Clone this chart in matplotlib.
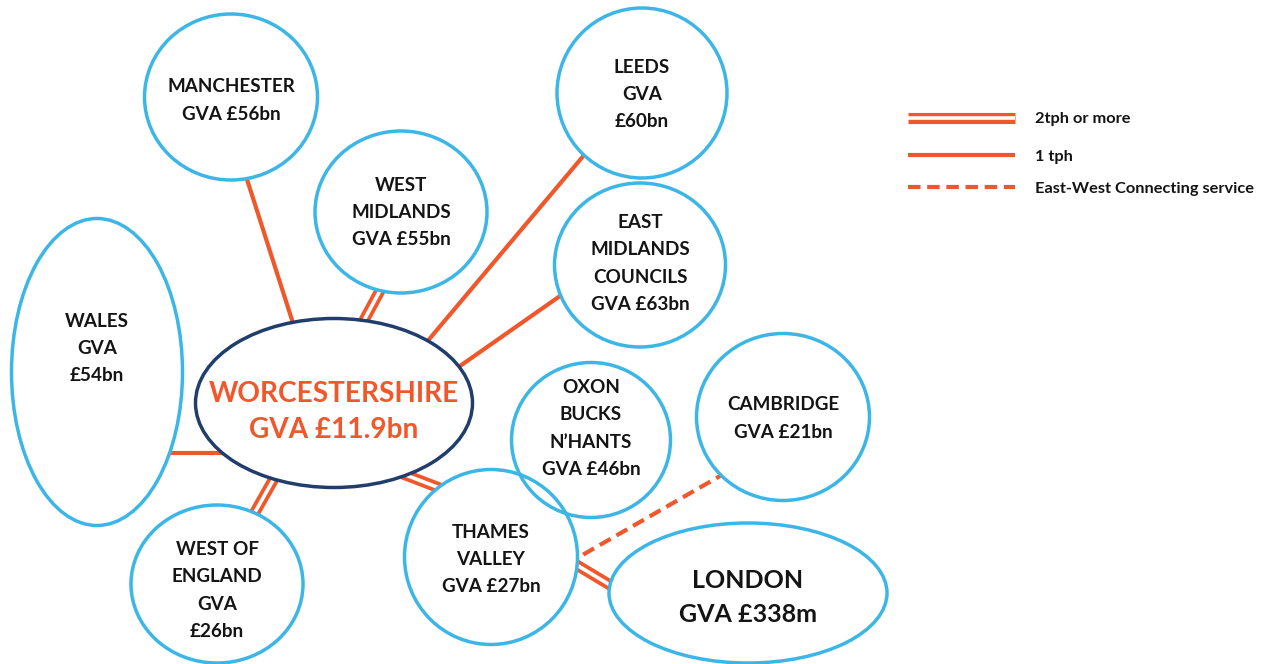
import matplotlib.pyplot as plt
from matplotlib.patches import Ellipse

# region names and their GVA label (one entry per bubble)
regions = ["MANCHESTER", "WEST MIDLANDS", "LEEDS", "EAST MIDLANDS", "WALES",
           "OXON BUCKS", "CAMBRIDGE", "THAMES VALLEY", "WEST OF ENGLAND", "LONDON"]
region_labels = [
    ["MANCHESTER", "GVA £56bn"],
    ["WEST", "MIDLANDS", "GVA £55bn"],
    ["LEEDS", "GVA", "£60bn"],
    ["EAST", "MIDLANDS", "COUNCILS", "GVA £63bn"],
    ["WALES", "GVA", "£54bn"],
    ["OXON", "BUCKS", "N\u2019HANTS", "GVA £46bn"],
    ["CAMBRIDGE", "GVA £21bn"],
    ["THAMES", "VALLEY", "GVA £27bn"],
    ["WEST OF", "ENGLAND", "GVA", "£26bn"],
    ["LONDON", "GVA £338m"],
]
hub_label = ["WORCESTERSHIRE", "GVA £11.9bn"]

# connections: (from, to, service)
links = [
    ("WORCESTERSHIRE", "MANCHESTER", "1 tph"),
    ("WORCESTERSHIRE", "WEST MIDLANDS", "2tph or more"),
    ("WORCESTERSHIRE", "LEEDS", "1 tph"),
    ("WORCESTERSHIRE", "EAST MIDLANDS", "1 tph"),
    ("WORCESTERSHIRE", "WALES", "1 tph"),
    ("WORCESTERSHIRE", "WEST OF ENGLAND", "2tph or more"),
    ("WORCESTERSHIRE", "THAMES VALLEY", "2tph or more"),
    ("THAMES VALLEY", "LONDON", "2tph or more"),
    ("CAMBRIDGE", "THAMES VALLEY", "East-West Connecting service"),
]
services = ["2tph or more", "1 tph", "East-West Connecting service"]

# ---- layout (pixel space, y down) ----
# centre x, centre y, width, height, text centre y
shape_layout = {
    "MANCHESTER": (231, 97, 173, 166, 99),
    "WEST MIDLANDS": (401, 212, 172, 162, 211),
    "LEEDS": (642, 93, 170, 170, 93),
    "EAST MIDLANDS": (640, 265, 171, 164, 262),
    "WALES": (97, 372, 171, 307, 347),
    "OXON BUCKS": (591, 440, 159, 155, 427),
    "CAMBRIDGE": (783, 417, 173, 167, 417),
    "THAMES VALLEY": (491, 557, 173, 175, 558),
    "WEST OF ENGLAND": (217, 584, 172, 158, 589),
    "LONDON": (748, 593, 278, 140, 595),
    "WORCESTERSHIRE": (334, 403, 277, 169, 410),
}
# segment end points for each link
link_layout = {
    ("WORCESTERSHIRE", "MANCHESTER"): ((300, 345), (244, 170)),
    ("WORCESTERSHIRE", "WEST MIDLANDS"): ((356, 335), (382, 287)),
    ("WORCESTERSHIRE", "LEEDS"): ((410, 362), (590, 148)),
    ("WORCESTERSHIRE", "EAST MIDLANDS"): ((440, 380), (570, 289)),
    ("WORCESTERSHIRE", "WALES"): ((165, 453), (240, 453)),
    ("WORCESTERSHIRE", "WEST OF ENGLAND"): ((280, 468), (250, 521)),
    ("WORCESTERSHIRE", "THAMES VALLEY"): ((390, 469), (450, 492)),
    ("THAMES VALLEY", "LONDON"): ((570, 561), (620, 591)),
    ("CAMBRIDGE", "THAMES VALLEY"): ((727, 472), (572, 561)),
}

ORANGE = "#F0582B"
BLUE = "#3CB6E7"
NAVY = "#1F3E6C"
INK = "#141414"
FONT = "Lato"

fig = plt.figure(figsize=(12.67, 6.64), dpi=100)
ax = fig.add_axes([0, 0, 1, 1])
ax.set_xlim(0, 1267)
ax.set_ylim(664, 0)
ax.axis("off")


def draw_link(p0, p1, kind, z=1):
    xs, ys = [p0[0], p1[0]], [p0[1], p1[1]]
    if kind == "2tph or more":
        ax.plot(xs, ys, color=ORANGE, lw=8.0, solid_capstyle="butt", zorder=z)
        ax.plot(xs, ys, color="white", lw=2.6, solid_capstyle="butt", zorder=z + 0.1)
    elif kind == "1 tph":
        ax.plot(xs, ys, color=ORANGE, lw=3.0, solid_capstyle="butt", zorder=z)
    else:
        ax.plot(xs, ys, color=ORANGE, lw=3.0, linestyle=(0, (3.0, 1.6)),
                dash_capstyle="butt", zorder=z)


for a, b, kind in links:
    p0, p1 = link_layout[(a, b)]
    draw_link(p0, p1, kind)

# white fills first, outlines on top so overlapping rims both show
all_nodes = regions + ["WORCESTERSHIRE"]
for name in all_nodes:
    cx, cy, w, h, _ = shape_layout[name]
    ax.add_patch(Ellipse((cx, cy), w, h, facecolor="white", edgecolor="none", zorder=2))
for name in all_nodes:
    cx, cy, w, h, _ = shape_layout[name]
    edge = NAVY if name == "WORCESTERSHIRE" else BLUE
    ax.add_patch(Ellipse((cx, cy), w, h, facecolor="none", edgecolor=edge, lw=2.5, zorder=3))


def draw_label(lines, cx, cy, size, step, color, weight="bold"):
    n = len(lines)
    for i, line in enumerate(lines):
        y = cy + (i - (n - 1) / 2) * step
        ax.text(cx, y, line, ha="center", va="center_baseline", fontsize=size,
                color=color, fontweight=weight, family=FONT, zorder=4)


for name, lines in zip(regions, region_labels):
    cx, cy, w, h, ty = shape_layout[name]
    if name == "LONDON":
        draw_label(lines, cx, ty, 18, 34, INK)
    else:
        draw_label(lines, cx, ty, 13.6, 27.2, INK)

cx, cy, w, h, ty = shape_layout["WORCESTERSHIRE"]
draw_label(hub_label, cx, ty, 20.2, 36, ORANGE)

# legend
legend_y = [118, 155, 187]
for kind, y in zip(services, legend_y):
    draw_link((908, y), (1015, y), kind, z=5)
    ax.text(1035, y, kind, ha="left", va="center_baseline", fontsize=11.8,
            fontweight="bold", color=INK, family=FONT, zorder=6)

fig.savefig("out.png", dpi=100, facecolor="white")
